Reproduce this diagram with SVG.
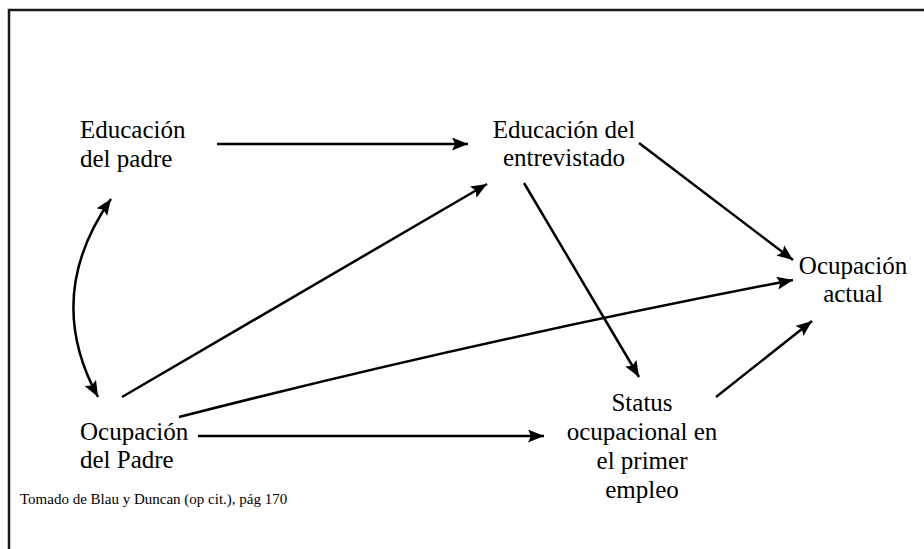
<svg xmlns="http://www.w3.org/2000/svg" width="924" height="549" viewBox="0 0 924 549">
<style>
text{font-family:"Liberation Serif","Times New Roman",serif;font-size:25px;fill:#000}
.c{text-anchor:middle}
.foot{font-size:15px}
.e{fill:none;stroke:#000;stroke-width:2.5}
</style>
<defs>
<marker id="ah" markerUnits="userSpaceOnUse" markerWidth="17" markerHeight="14" refX="16" refY="6.5" orient="auto-start-reverse">
<path d="M0,0 L16,6.5 L0,13 L3,6.5 Z" fill="#000"/>
</marker>
</defs>
<rect x="0" y="0" width="924" height="549" fill="#fff"/>
<rect x="9" y="10" width="930" height="560" fill="none" stroke="#1a1a1a" stroke-width="2.5"/>
<g id="edu-padre"><text x="80" y="138">Educación</text><text x="80" y="167">del padre</text></g>
<g id="edu-entrevistado"><text class="c" x="564" y="138">Educación del</text><text class="c" x="564" y="166">entrevistado</text></g>
<g id="ocup-actual"><text class="c" x="853" y="274">Ocupación</text><text class="c" x="853" y="302">actual</text></g>
<g id="ocup-padre"><text x="80" y="440">Ocupación</text><text x="80" y="468">del Padre</text></g>
<g id="status"><text class="c" x="642" y="411">Status</text><text class="c" x="642" y="440">ocupacional en</text><text class="c" x="642" y="469">el primer</text><text class="c" x="642" y="498">empleo</text></g>
<g id="source"><text class="foot" x="20" y="504">Tomado de Blau y Duncan (op cit.), pág 170</text></g>
<g id="connectors">
<path class="e" d="M217,144 L468,144" marker-end="url(#ah)"/>
<path class="e" d="M98,397 Q43,296 111,199" marker-start="url(#ah)" marker-end="url(#ah)"/>
<path class="e" d="M122,397 L487,184" marker-end="url(#ah)"/>
<path class="e" d="M179,417 Q480,340 793,280" marker-end="url(#ah)"/>
<path class="e" d="M198,436 L544,436" marker-end="url(#ah)"/>
<path class="e" d="M639,143 L793,260" marker-end="url(#ah)"/>
<path class="e" d="M524,183 L639,377" marker-end="url(#ah)"/>
<path class="e" d="M716,397 L812,321" marker-end="url(#ah)"/>
</g>
</svg>
